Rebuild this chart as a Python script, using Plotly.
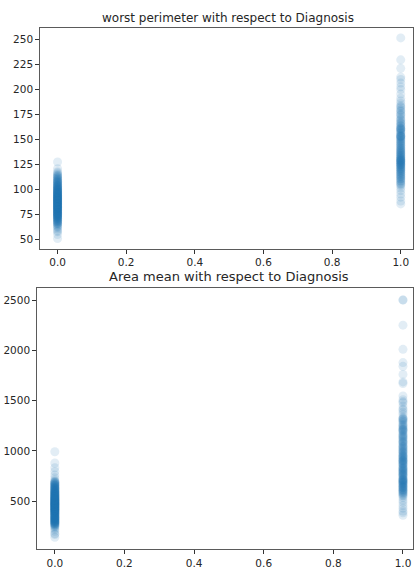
import plotly.graph_objects as go

# ---- data ----
benign_worst_perimeter = [50.4, 54.5, 57.3, 58.1, 59.9, 61.5, 62.3, 63.2, 64.0, 64.9, 65.5, 66.1, 66.9, 67.5, 68.2,
    68.8, 69.4, 70.0, 70.5, 71.1, 71.6, 72.2, 72.6, 73.1, 73.6, 74.0, 74.5, 75.0, 75.4, 75.9, 76.3, 76.8, 77.2,
    77.6, 78.1, 78.5, 78.9, 79.3, 79.8, 80.2, 80.6, 81.0, 81.4, 81.9, 82.3, 82.7, 83.1, 83.5, 83.9, 84.3, 84.7,
    85.1, 85.5, 85.9, 86.3, 86.7, 87.1, 87.5, 87.9, 88.3, 88.7, 89.1, 89.5, 89.9, 90.3, 90.7, 91.1, 91.5, 91.9,
    92.3, 92.8, 93.2, 93.6, 94.1, 94.5, 95.0, 95.4, 95.9, 96.3, 96.8, 97.3, 97.8, 98.3, 98.8, 99.3, 99.8, 100.4,
    100.9, 101.5, 102.1, 102.7, 103.3, 104.0, 104.7, 105.4, 106.1, 106.9, 107.7, 108.5, 109.3, 110.2, 111.1,
    112.0, 113.0, 114.0, 115.0, 116.2, 117.3, 120.3, 127.1,
    68.5, 70.3, 72.9, 74.2, 75.7, 76.6, 77.9, 78.7, 79.6, 80.4, 81.2, 82.0, 82.5, 83.3, 84.0, 84.9, 85.7, 86.5,
    87.3, 88.0, 88.9, 89.7, 90.5, 91.3, 92.0, 92.6, 93.4, 94.3, 95.2, 96.1, 97.0, 98.0, 99.0, 100.1, 101.2,
    102.4, 103.6, 105.0, 106.5, 108.0, 109.8, 111.5, 113.4, 70.8, 73.3, 76.0, 79.0, 81.7, 84.5, 87.7, 90.0,
    93.9, 96.6, 99.6, 103.0, 107.3, 65.8, 67.2, 71.9, 74.8]
malignant_worst_perimeter = [85.1, 88.0, 91.9, 95.0, 98.4, 101.0, 103.2, 104.5, 106.0, 107.3, 108.6, 109.9, 111.0,
    112.1, 113.2, 114.3, 115.4, 116.4, 117.3, 118.2, 119.1, 120.0, 120.9, 121.7, 122.5, 123.4, 124.2, 125.0,
    125.8, 126.6, 127.3, 128.1, 128.9, 129.7, 130.5, 131.3, 132.1, 133.0, 133.9, 134.8, 135.7, 136.6, 137.5,
    138.4, 139.3, 140.2, 141.2, 142.2, 143.2, 144.2, 145.3, 146.4, 147.5, 148.6, 149.7, 150.8, 151.9, 152.6,
    153.2, 154.5, 155.8, 157.0, 158.2, 159.5, 160.4, 161.3, 162.6, 164.0, 165.5, 167.0, 168.6, 170.3, 172.0,
    173.8, 175.6, 177.5, 179.4, 181.4, 183.5, 185.6, 188.0, 190.8, 195.0, 199.5, 202.3, 206.0, 209.6, 212.0,
    220.8, 229.3, 251.2,
    105.2, 108.0, 110.5, 112.6, 114.8, 116.9, 118.7, 120.4, 122.1, 123.8, 125.4, 127.0, 128.5, 130.1, 131.7,
    133.4, 135.2, 137.0, 139.0, 141.0, 143.7, 146.0, 148.0, 150.2, 152.2, 153.8, 156.4, 158.8, 160.9, 163.3,
    166.2, 169.4, 174.5, 178.4, 182.4, 124.6, 127.7, 129.3, 152.9, 160.0]
benign_area_mean = [143.5, 170.4, 178.8, 201.9, 221.3, 234.3, 246.3, 260.9, 268.8, 273.9, 278.6, 284.9, 290.2,
    295.5, 300.2, 305.1, 310.8, 316.0, 321.2, 326.6, 331.6, 336.1, 340.9, 346.4, 351.9, 357.6, 363.7, 368.5,
    373.9, 378.4, 384.8, 389.4, 394.1, 399.8, 404.9, 409.0, 412.6, 416.2, 420.3, 425.0, 429.9, 433.8, 437.6,
    441.3, 445.2, 449.3, 453.1, 457.9, 461.4, 465.4, 469.1, 472.9, 476.5, 480.4, 484.3, 488.0, 492.1, 496.4,
    500.3, 504.8, 508.8, 512.2, 516.4, 520.2, 524.8, 529.4, 534.6, 538.9, 543.8, 548.2, 553.5, 558.1, 563.0,
    568.4, 573.2, 578.3, 584.1, 589.0, 594.2, 599.5, 605.2, 611.2, 618.4, 624.3, 630.5, 636.6, 643.7, 651.9,
    658.8, 666.0, 674.5, 682.5, 689.5, 698.8, 710.6, 733.5, 761.3, 795.6, 832.9, 880.2, 992.1,
    250.5, 262.0, 271.3, 281.2, 287.6, 293.0, 298.0, 303.0, 308.2, 313.4, 318.6, 323.8, 329.0, 334.0, 338.6,
    343.5, 349.0, 354.6, 360.5, 366.0, 371.2, 376.1, 381.5, 387.0, 391.7, 397.0, 402.3, 407.0, 411.0, 414.5,
    418.3, 422.6, 427.5, 431.8, 435.7, 439.5, 443.2, 447.3, 451.2, 455.5, 459.6, 463.4, 467.3, 471.0, 474.7,
    478.5, 482.3, 486.1, 490.0, 494.3, 498.3, 502.5, 506.8, 510.5, 514.3, 518.3, 522.5, 527.1, 532.0, 536.8,
    541.3, 546.0, 551.0, 555.8, 560.5, 565.7, 570.8, 575.7, 581.2, 586.5, 591.6, 596.8, 602.3, 608.2, 614.8,
    621.3, 627.4, 633.5, 640.1, 647.8, 655.3, 662.4, 670.2, 678.5, 686.0, 694.1]
malignant_area_mean = [361.6, 386.1, 403.5, 432.0, 458.7, 489.0, 512.2, 537.3, 555.1, 572.6, 584.8, 597.8, 609.9,
    618.4, 633.1, 641.2, 651.0, 662.7, 674.8, 684.5, 692.9, 701.9, 710.6, 716.9, 728.2, 744.9, 758.6, 768.6,
    781.0, 793.2, 803.1, 815.8, 826.8, 838.1, 857.6, 869.5, 880.8, 895.0, 904.6, 912.7, 928.2, 940.0, 951.6,
    963.7, 981.6, 994.0, 1007.0, 1024.0, 1040.0, 1052.0, 1075.0, 1088.0, 1102.0, 1123.0, 1138.0, 1152.0,
    1167.0, 1191.0, 1206.0, 1214.0, 1230.0, 1247.0, 1264.0, 1290.0, 1308.0, 1319.0, 1335.0, 1364.0, 1386.0,
    1407.0, 1419.0, 1446.0, 1479.0, 1491.0, 1509.0, 1546.0, 1670.0, 1686.0, 1761.0, 1841.0, 1878.0, 2010.0,
    2250.0, 2499.0, 2501.0,
    560.0, 578.0, 592.0, 604.0, 614.0, 626.0, 637.0, 646.0, 657.0, 668.0, 680.0, 689.0, 697.0, 706.0, 714.0,
    722.0, 736.0, 751.0, 763.0, 775.0, 787.0, 798.0, 809.0, 821.0, 832.0, 846.0, 863.0, 875.0, 888.0, 899.0,
    908.0, 920.0, 934.0, 946.0, 957.0, 972.0, 988.0, 1001.0, 1016.0, 1032.0, 1046.0, 1063.0, 1082.0, 1095.0,
    1112.0, 1130.0, 1145.0, 1160.0, 1180.0, 1199.0, 1210.0, 1222.0, 1239.0, 1256.0, 1277.0, 1299.0, 1313.0,
    1327.0]

titles = ["worst perimeter with respect to Diagnosis", "Area mean with respect to Diagnosis"]
x_ticks = [0.0, 0.2, 0.4, 0.6, 0.8, 1.0]
y1_ticks = [50, 75, 100, 125, 150, 175, 200, 225, 250]
y2_ticks = [500, 1000, 1500, 2000, 2500]

W, H = 414, 569
color = "#1f77b4"

x1 = [0] * len(benign_worst_perimeter) + [1] * len(malignant_worst_perimeter)
y1 = benign_worst_perimeter + malignant_worst_perimeter
x2 = [0] * len(benign_area_mean) + [1] * len(malignant_area_mean)
y2 = benign_area_mean + malignant_area_mean

fig = go.Figure()
mk = dict(color=color, opacity=0.13, size=9, line=dict(width=0))
fig.add_trace(go.Scatter(x=x1, y=y1, mode="markers", marker=mk, xaxis="x", yaxis="y",
                         showlegend=False, hoverinfo="skip", cliponaxis=False))
fig.add_trace(go.Scatter(x=x2, y=y2, mode="markers", marker=mk, xaxis="x2", yaxis="y2",
                         showlegend=False, hoverinfo="skip", cliponaxis=False))

font = dict(family="DejaVu Sans", size=10.5, color="#262626")
ax_common = dict(showline=True, linecolor="#5a5a5a", linewidth=1.3, mirror=True, showgrid=False,
                 zeroline=False, ticks="outside", ticklen=4, tickcolor="#333", tickwidth=1,
                 tickfont=font)

# top panel: pixels 40.5..414 horizontally, 28..249.5 vertically
l1 = 40.5
fig.update_layout(
    xaxis=dict(ax_common, domain=[l1 / W, 1], range=[-0.05, -0.05 + (W - l1) / 344.0],
               tickvals=x_ticks, tickformat=".1f", anchor="y"),
    yaxis=dict(ax_common, domain=[1 - 249.5 / H, 1 - 28 / H], range=[40.37, 261.24],
               tickvals=y1_ticks, anchor="x"),
)
l2 = 37.5
fig.update_layout(
    xaxis2=dict(ax_common, domain=[l2 / W, 1], range=[-0.05, -0.05 + (W - l2) / 349.0],
                tickvals=x_ticks, tickformat=".1f", anchor="y2"),
    yaxis2=dict(ax_common, domain=[1 - 551 / H, 1 - 289 / H], range=[25.6, 2619.4],
                tickvals=y2_ticks, anchor="x2"),
)

fig.update_layout(
    width=W, height=H, margin=dict(l=0, r=0, t=0, b=0),
    paper_bgcolor="white", plot_bgcolor="white",
    annotations=[
        dict(text=titles[0], x=229 / W, y=1 - 18 / H, xref="paper", yref="paper", showarrow=False,
             font=dict(family="DejaVu Sans", size=12, color="#262626"), xanchor="center", yanchor="middle"),
        dict(text=titles[1], x=230 / W, y=1 - 277.5 / H, xref="paper", yref="paper", showarrow=False,
             font=dict(family="DejaVu Sans", size=13, color="#262626"), xanchor="center", yanchor="middle"),
    ],
)

fig.write_html("out.html", config={"displayModeBar": False},
               post_script="document.body.style.margin='0';document.body.style.overflow='hidden';")
